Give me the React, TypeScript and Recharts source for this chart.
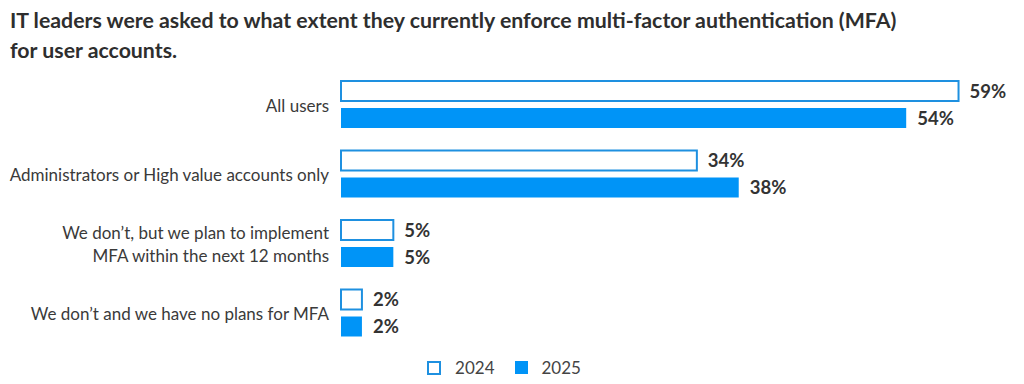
import { BarChart, Bar, XAxis, YAxis, LabelList } from 'recharts'

// 调查类别与两年的占比（%）
const categories = [
  'All users',
  'Administrators or High value accounts only',
  'We don’t, but we plan to implement\nMFA within the next 12 months',
  'We don’t and we have no plans for MFA',
]
const values2024 = [59, 34, 5, 2]
const values2025 = [54, 38, 5, 2]
const seriesNames = ['2024', '2025']

const BLUE = '#0094F7'
const OUTLINE = '#1E90E0'
const FONT = 'Lato, "Open Sans", sans-serif'

const data = categories.map((c, i) => ({
  category: c,
  y2024: values2024[i],
  y2025: values2025[i],
}))

// 多行的类别标签
function CategoryTick(props: any) {
  const { x, y, payload } = props
  const lines = String(payload.value).split('\n')
  const lh = 23
  const start = y - ((lines.length - 1) * lh) / 2
  return (
    <text
      x={x}
      y={start}
      textAnchor="end"
      fill="#3a3a3a"
      fontSize={17}
      fontFamily={FONT}
      dominantBaseline="central"
    >
      {lines.map((l, i) => (
        <tspan key={i} x={x} y={start + i * lh} dominantBaseline="central">
          {l}
        </tspan>
      ))}
    </text>
  )
}

const pct = (v: any) => `${v}%`

export default function App() {
  return (
    <div
      style={{
        position: 'absolute',
        left: 0,
        top: 0,
        width: 1024,
        height: 384,
        background: '#fff',
        fontFamily: FONT,
      }}
    >
      <div
        style={{
          position: 'absolute',
          left: 10,
          top: 5,
          fontSize: 21.3,
          fontWeight: 700,
          lineHeight: '30px',
          color: '#2e2e2e',
        }}
      >
        IT leaders were asked to what extent they currently enforce multi-factor authentication (MFA)
        <br />
        for user accounts.
      </div>
      <BarChart
        width={1024}
        height={384}
        data={data}
        layout="vertical"
        margin={{ top: 70, right: 55, bottom: 36, left: 0 }}
        barSize={20}
        barGap={7}
      >
        <XAxis type="number" domain={[0, 60]} hide />
        <YAxis
          type="category"
          dataKey="category"
          width={341}
          axisLine={false}
          tickLine={false}
          tickMargin={6}
          tick={<CategoryTick />}
          interval={0}
        />
        <Bar
          dataKey="y2024"
          name={seriesNames[0]}
          fill="#fff"
          stroke={OUTLINE}
          strokeWidth={2}
          isAnimationActive={false}
        >
          <LabelList
            dataKey="y2024"
            position="right"
            offset={11}
            formatter={pct}
            fill="#333"
            fontSize={18.5}
            fontWeight={700}
            fontFamily={FONT}
          />
        </Bar>
        <Bar dataKey="y2025" name={seriesNames[1]} fill={BLUE} isAnimationActive={false}>
          <LabelList
            dataKey="y2025"
            position="right"
            offset={11}
            formatter={pct}
            fill="#333"
            fontSize={18.5}
            fontWeight={700}
            fontFamily={FONT}
          />
        </Bar>
      </BarChart>
      <div
        style={{
          position: 'absolute',
          top: 357,
          left: -8,
          width: 1024,
          display: 'flex',
          justifyContent: 'center',
          alignItems: 'center',
          fontSize: 17,
          color: '#444',
        }}
      >
        <span
          style={{
            display: 'inline-block',
            width: 10,
            height: 10,
            border: `2px solid ${OUTLINE}`,
            marginRight: 14,
          }}
        />
        <span style={{ marginRight: 20 }}>{seriesNames[0]}</span>
        <span
          style={{
            display: 'inline-block',
            width: 13,
            height: 13,
            background: BLUE,
            marginRight: 14,
          }}
        />
        <span>{seriesNames[1]}</span>
      </div>
    </div>
  )
}
